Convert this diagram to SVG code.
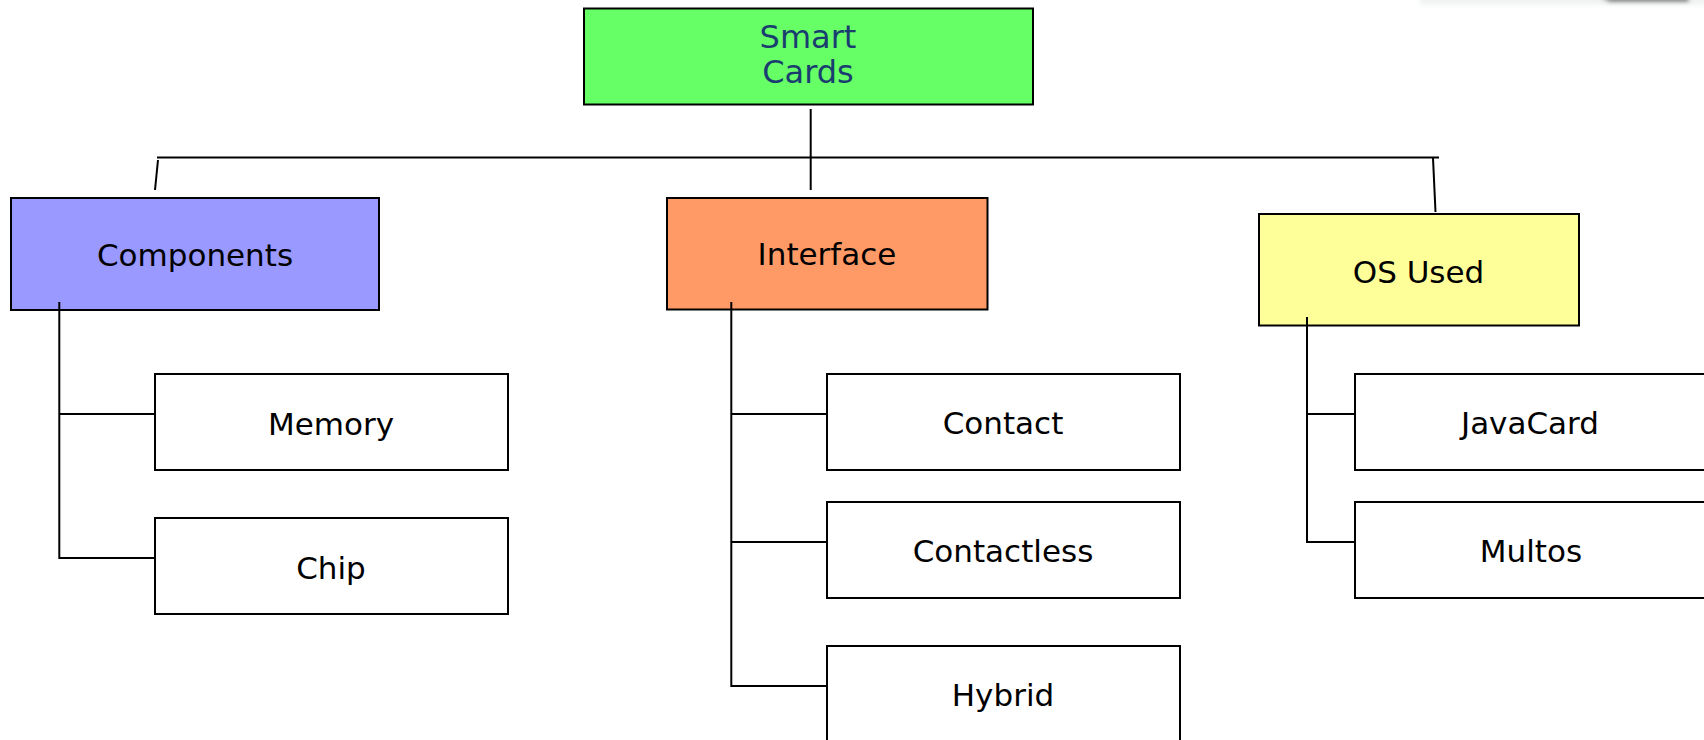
<svg xmlns="http://www.w3.org/2000/svg" width="1704" height="740" viewBox="0 0 1704 740">
  <style>
    .box { stroke: #000; stroke-width: 2; }
    .leaf { fill: #fff; stroke: #000; stroke-width: 2; }
    .lbl { font-family: "DejaVu Sans", Verdana, sans-serif; font-size: 31px; fill: #000; text-anchor: middle; }
    .root { font-size: 32px; fill: #1a3d70; }
    .wire { fill: none; stroke: #000; stroke-width: 2; }
  </style>
  <defs>
    <filter id="soft" x="-20%" y="-200%" width="140%" height="500%">
      <feGaussianBlur stdDeviation="2"/>
    </filter>
  </defs>
  <rect width="1704" height="740" fill="#fff"/>

  <!-- faint edge of a cropped graphic at the top right -->
  <g id="corner-art" filter="url(#soft)">
    <rect x="1420" y="-6" width="290" height="11" fill="#f1f3f3"/>
    <path d="M1600 -3 L1690 -3 L1688 2 L1610 2 Z" fill="#666"/>
  </g>

  <g id="smart-cards">
    <rect class="box" x="584" y="8.5" width="449" height="96" fill="#66ff66"/>
    <text class="lbl root" x="808" y="48">Smart</text>
    <text class="lbl root" x="808" y="83">Cards</text>
  </g>

  <g id="components">
    <rect class="box" x="11" y="198" width="368" height="112" fill="#9999ff"/>
    <text class="lbl" x="195" y="266">Components</text>
  </g>
  <g id="interface">
    <rect class="box" x="667" y="198" width="320.5" height="111.5" fill="#ff9966"/>
    <text class="lbl" x="827" y="265">Interface</text>
  </g>
  <g id="os-used">
    <rect class="box" x="1259" y="214" width="320" height="111.5" fill="#ffff99"/>
    <text class="lbl" x="1418.5" y="282.5">OS Used</text>
  </g>

  <g id="memory">
    <rect class="leaf" x="155" y="374" width="353" height="96"/>
    <text class="lbl" x="331" y="435">Memory</text>
  </g>
  <g id="chip">
    <rect class="leaf" x="155" y="518" width="353" height="96"/>
    <text class="lbl" x="331" y="578.5">Chip</text>
  </g>

  <g id="contact">
    <rect class="leaf" x="827" y="374" width="353" height="96"/>
    <text class="lbl" x="1003" y="434">Contact</text>
  </g>
  <g id="contactless">
    <rect class="leaf" x="827" y="502" width="353" height="96"/>
    <text class="lbl" x="1003" y="562">Contactless</text>
  </g>
  <g id="hybrid">
    <rect class="leaf" x="827" y="646" width="353" height="98"/>
    <text class="lbl" x="1003" y="706">Hybrid</text>
  </g>

  <g id="javacard">
    <rect class="leaf" x="1355" y="374" width="353" height="96"/>
    <text class="lbl" x="1530" y="434">JavaCard</text>
  </g>
  <g id="multos">
    <rect class="leaf" x="1355" y="502" width="353" height="96"/>
    <text class="lbl" x="1531" y="562">Multos</text>
  </g>

  <!-- connectors sit on top so the trunks start just inside the parent boxes -->
  <g id="connectors">
    <!-- root to level bar -->
    <line class="wire" x1="810.7" y1="109" x2="810.7" y2="190"/>
    <line class="wire" x1="157" y1="157.5" x2="1439" y2="157.5"/>
    <line class="wire" x1="158" y1="160" x2="155" y2="190"/>
    <line class="wire" x1="1433" y1="158" x2="1435.5" y2="212"/>
    <!-- Components branch -->
    <polyline class="wire" points="59.3,302 59.3,558 155,558"/>
    <line class="wire" x1="59.3" y1="414" x2="155" y2="414"/>
    <!-- Interface branch -->
    <polyline class="wire" points="731.3,302 731.3,686 827,686"/>
    <line class="wire" x1="731.3" y1="414" x2="827" y2="414"/>
    <line class="wire" x1="731.3" y1="542" x2="827" y2="542"/>
    <!-- OS Used branch -->
    <polyline class="wire" points="1307,317 1307,542 1355,542"/>
    <line class="wire" x1="1307" y1="414" x2="1355" y2="414"/>
  </g>
</svg>
